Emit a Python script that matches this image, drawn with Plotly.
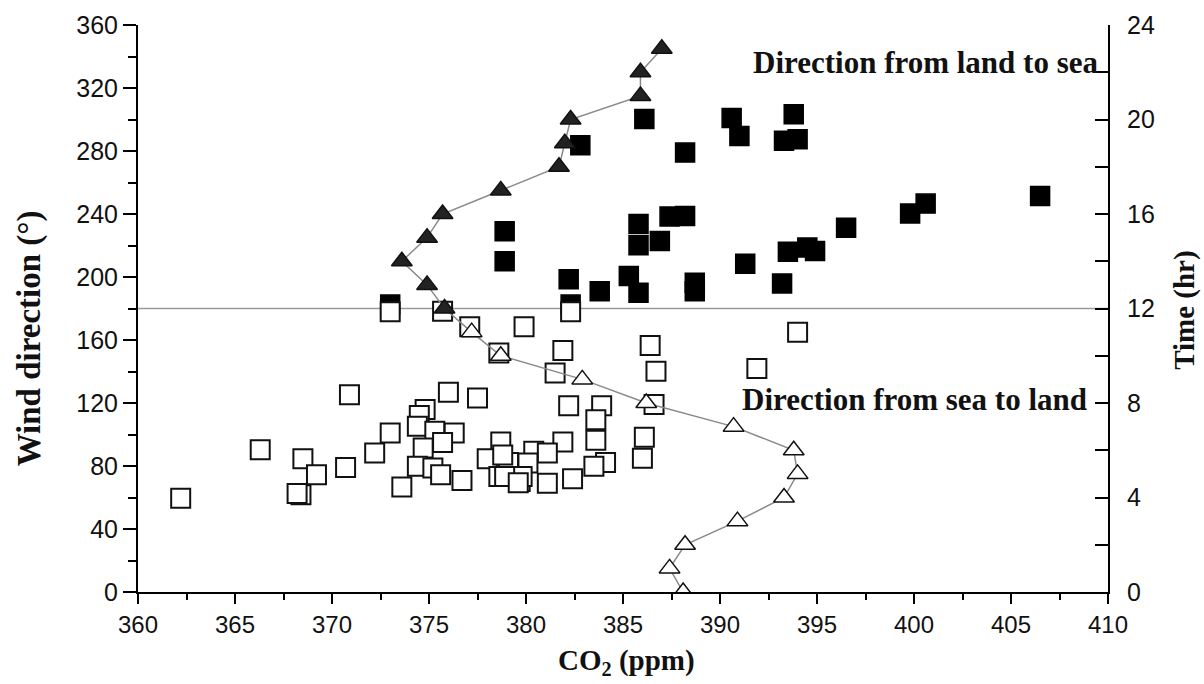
import plotly.graph_objects as go

# ---- data ----
hours = list(range(24))
tri_co = [388.1, 387.4, 388.2, 390.9, 393.3, 394.0, 393.8, 390.7, 386.2, 382.9,
          378.7, 377.2, 375.8, 374.9, 373.6, 374.9, 375.7, 378.7, 381.7, 382.0,
          382.3, 385.9, 385.9, 387.0]

land_sea_co = [373.0, 382.3, 382.8, 386.1, 390.6, 391.0, 393.8, 393.3, 394.0, 388.2,
               378.9, 378.9, 382.2, 383.8, 385.3, 385.8, 388.7, 388.7, 393.2, 385.8,
               387.4, 388.2, 385.8, 386.9, 391.3, 393.5, 394.5, 394.9, 396.5, 399.8,
               400.6, 406.5]
land_sea_dir = [182.5, 182.5, 283.7, 300.3, 300.9, 289.6, 303.4, 286.5, 287.5, 279.0,
                229.0, 210.0, 198.5, 191.0, 200.6, 190.0, 196.4, 191.0, 195.9, 233.7,
                238.4, 238.7, 220.1, 222.8, 208.4, 216.1, 218.7, 216.5, 231.3, 240.3,
                246.6, 251.5]

sea_land_co = [373.0, 375.7, 377.1, 378.6, 379.9, 370.9, 376.0, 377.5, 374.8, 374.5,
               374.4, 375.3, 376.3, 373.0, 375.7, 374.7, 372.2, 366.3, 368.5, 369.2,
               370.7, 374.4, 375.2, 375.6, 373.6, 376.7, 368.4, 368.2, 362.2, 378.7,
               378.0, 379.1, 378.6, 379.7, 382.3, 381.9, 381.5, 386.4, 386.7, 394.0,
               391.9, 386.6, 382.2, 383.9, 383.6, 381.9, 383.6, 386.1, 386.0, 380.4,
               381.1, 380.1, 378.8, 384.1, 383.5, 382.4, 381.1, 379.8, 378.9, 379.6]
sea_land_dir = [178.0, 178.3, 168.4, 151.8, 168.4, 125.3, 126.8, 123.2, 115.8, 112.0,
                105.2, 102.1, 101.0, 101.0, 95.0, 91.4, 88.2, 90.3, 84.6, 74.4,
                79.1, 79.8, 78.7, 74.4, 66.6, 70.8, 61.7, 62.5, 59.6, 95.2,
                84.6, 82.3, 73.4, 70.2, 178.0, 153.3, 139.1, 156.5, 140.2, 165.0,
                141.9, 119.0, 118.3, 118.3, 109.4, 95.2, 96.3, 98.2, 85.0, 89.3,
                88.2, 81.9, 87.0, 82.3, 79.8, 71.9, 69.1, 73.4, 73.4, 69.4]

x_ticks = list(range(360, 411, 5))
y_ticks = list(range(0, 361, 40))
t_ticks = list(range(0, 25, 4))

serif = "Liberation Serif, Times New Roman, serif"
sans = "Liberation Sans, Arial, sans-serif"

fig = go.Figure()

fig.add_trace(go.Scatter(
    x=land_sea_co, y=land_sea_dir, mode="markers",
    marker=dict(symbol="square", size=19, color="black",
                line=dict(color="black", width=1.5)),
    showlegend=False))

fig.add_trace(go.Scatter(
    x=sea_land_co, y=sea_land_dir, mode="markers",
    marker=dict(symbol="square", size=19, color="white",
                line=dict(color="#111", width=2)),
    showlegend=False))

fig.add_trace(go.Scatter(
    x=tri_co, y=hours, yaxis="y2", mode="lines",
    line=dict(color="#8a8a8a", width=1.5), showlegend=False))

fig.add_trace(go.Scatter(
    x=tri_co[:12], y=hours[:12], yaxis="y2", mode="markers",
    marker=dict(symbol="triangle-up", size=18, color="white",
                line=dict(color="#111", width=1.5)),
    showlegend=False))

fig.add_trace(go.Scatter(
    x=tri_co[12:], y=hours[12:], yaxis="y2", mode="markers",
    marker=dict(symbol="triangle-up", size=18, color="#222",
                line=dict(color="#111", width=1.5)),
    showlegend=False))

fig.add_shape(type="line", xref="paper", x0=0, x1=1, yref="y", y0=180, y1=180,
              line=dict(color="#9a9a9a", width=1.5), layer="below")

fig.update_layout(
    width=1204, height=684,
    margin=dict(l=138, r=96, t=25, b=92),
    paper_bgcolor="white", plot_bgcolor="white",
    xaxis=dict(range=[360, 410], tickvals=x_ticks, ticks="outside", ticklen=10,
               tickwidth=1.5, tickcolor="black",
               minor=dict(dtick=2.5, tick0=360, ticks="outside", ticklen=6,
                          tickwidth=1.5, tickcolor="black"),
               showline=True, linecolor="black", linewidth=2, showgrid=False,
               zeroline=False, tickfont=dict(family=sans, size=24, color="#111")),
    xaxis2=dict(range=[360, 410], overlaying="x", side="top", anchor="y",
                tickvals=x_ticks, ticks="inside", ticklen=9, tickwidth=1.5,
                tickcolor="black", showticklabels=False, showline=True,
                linecolor="black", linewidth=2, showgrid=False, zeroline=False),
    yaxis=dict(range=[0, 360], tickvals=y_ticks, ticks="outside", ticklen=13,
               tickwidth=1.5, tickcolor="black",
               minor=dict(dtick=20, tick0=0, ticks="outside", ticklen=8,
                          tickwidth=1.5, tickcolor="black"),
               showline=True, linecolor="black", linewidth=2, showgrid=False,
               zeroline=False, tickfont=dict(family=sans, size=25, color="#111")),
    yaxis2=dict(range=[0, 24], tickvals=t_ticks, overlaying="y", side="right",
                ticks="inside", ticklen=13, tickwidth=1.5, tickcolor="black",
                minor=dict(dtick=2, tick0=0, ticks="inside", ticklen=13,
                           tickwidth=1.5, tickcolor="black"),
                showline=True, linecolor="black", linewidth=2, showgrid=False,
                zeroline=False, ticklabelstandoff=12,
                tickfont=dict(family=sans, size=25, color="#111")),
    annotations=[
        dict(text="<b>Direction from land to sea</b>", x=409.6, y=336,
             xref="x", yref="y", xanchor="right", yanchor="middle",
             showarrow=False, font=dict(family=serif, size=31, color="#111")),
        dict(text="<b>Direction from sea to land</b>", x=409.0, y=122,
             xref="x", yref="y", xanchor="right", yanchor="middle",
             showarrow=False, font=dict(family=serif, size=31, color="#111")),
        dict(text="<b>Wind direction (°)</b>", x=-0.111, y=0.448,
             xref="paper", yref="paper", xanchor="center", yanchor="middle",
             textangle=-90, showarrow=False,
             font=dict(family=serif, size=33, color="#111")),
        dict(text="<b>Time (hr)</b>", x=1.079, y=0.497,
             xref="paper", yref="paper", xanchor="center", yanchor="middle",
             textangle=-90, showarrow=False,
             font=dict(family=serif, size=29, color="#111")),
        dict(text="<b>CO<sub>2</sub> (ppm)</b>", x=0.504, y=-0.124,
             xref="paper", yref="paper", xanchor="center", yanchor="middle",
             showarrow=False, font=dict(family=serif, size=29, color="#111")),
    ],
)

fig.write_html("out.html")
